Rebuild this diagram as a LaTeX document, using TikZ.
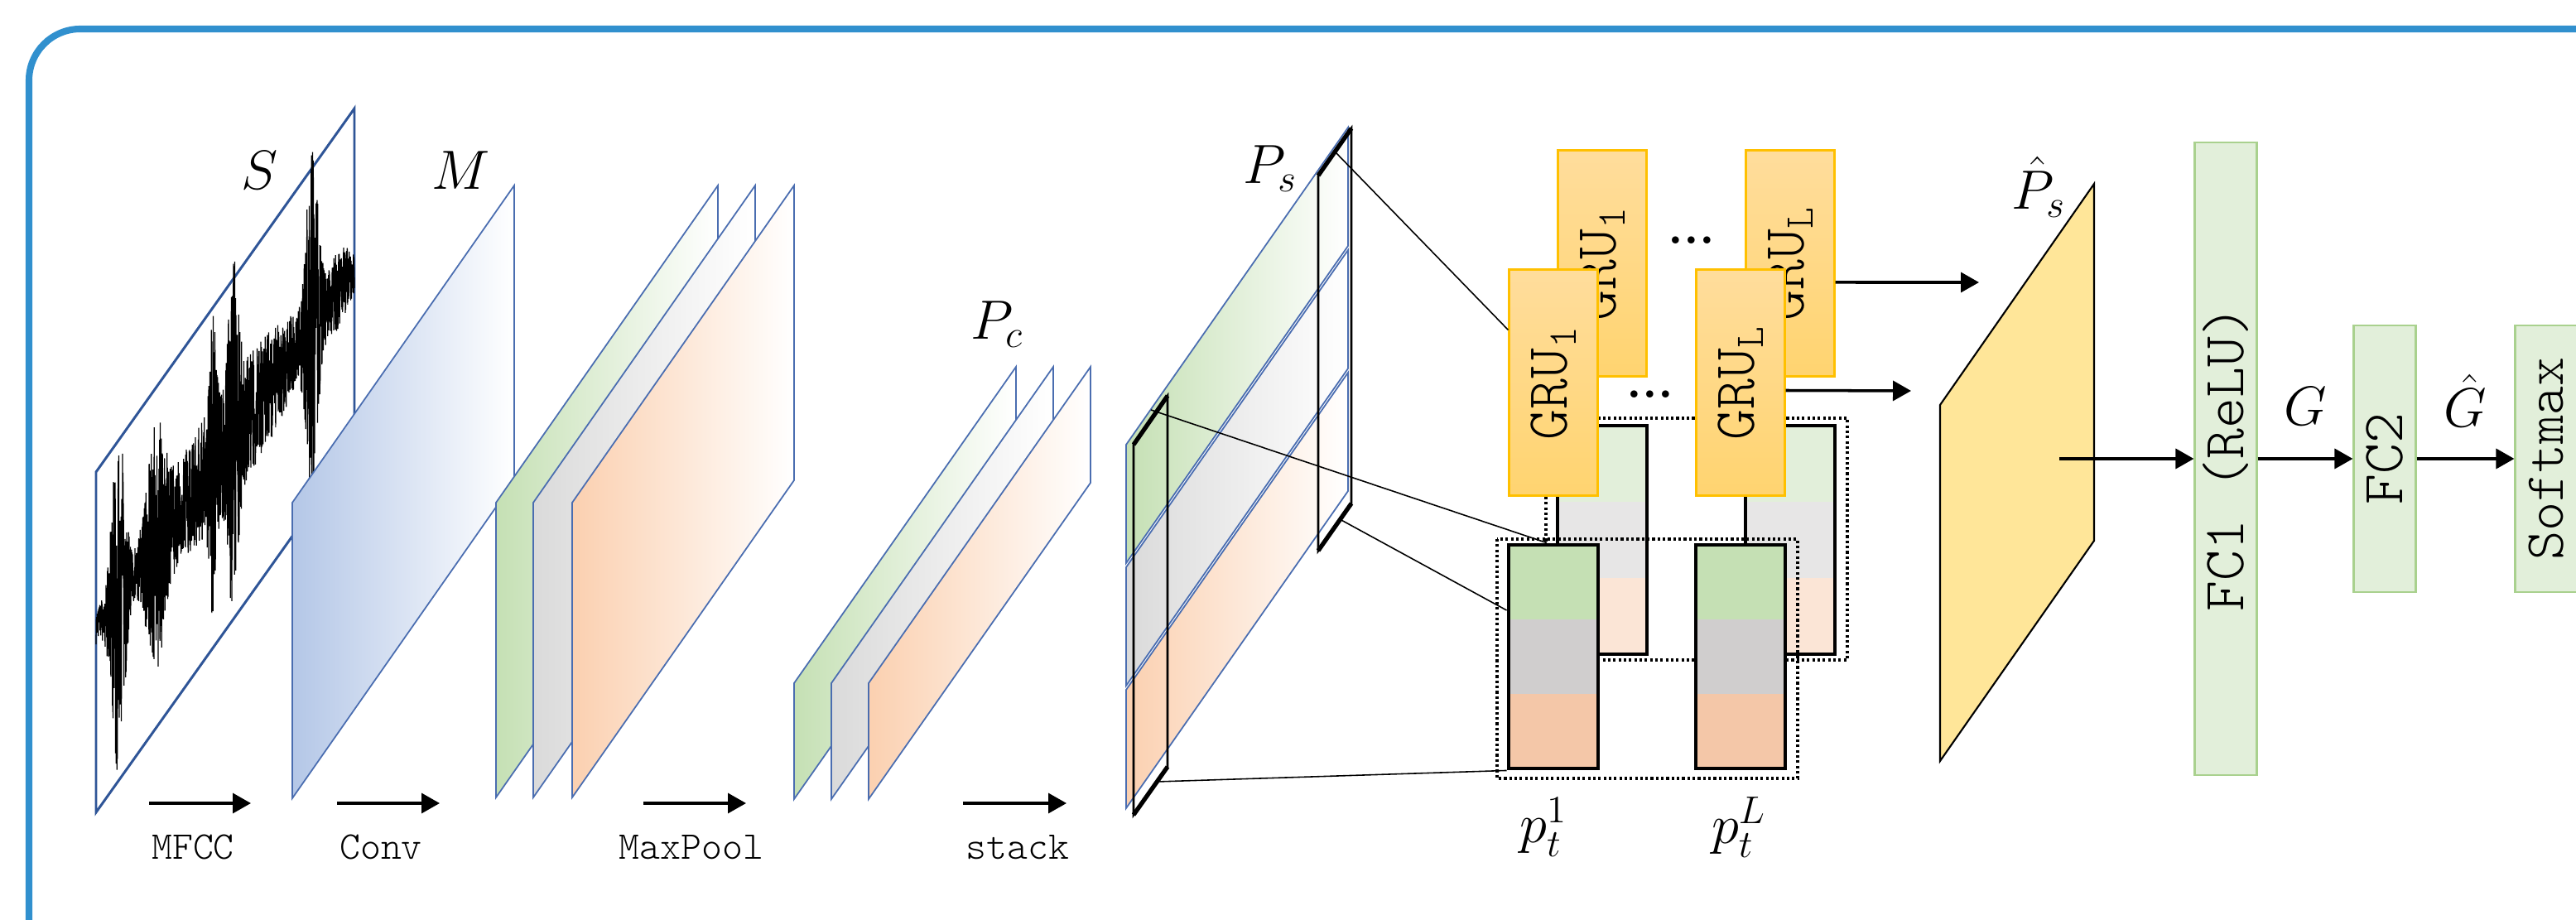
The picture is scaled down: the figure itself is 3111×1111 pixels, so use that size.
\RequirePackage{fix-cm}
\documentclass[tikz,border=0pt]{standalone}
\usepackage{fontspec}
\setmonofont{Latin Modern Mono Light}
\usepackage{graphicx}
\usetikzlibrary{arrows.meta}

\definecolor{framebl}{HTML}{3190CE}
\definecolor{wavebl}{HTML}{2F5597}
\definecolor{edgebl}{HTML}{4A6DB0}
\definecolor{convbl}{HTML}{B4C7E7}
\definecolor{mapgr}{HTML}{C5E0B4}
\definecolor{mapgy}{HTML}{DADADA}
\definecolor{mapor}{HTML}{FBD0B0}
\definecolor{grutop}{HTML}{FFDD9C}
\definecolor{grubot}{HTML}{FFD470}
\definecolor{gruedge}{HTML}{FFC000}
\definecolor{pgr}{HTML}{C5E0B4}
\definecolor{pgy}{HTML}{D0CECE}
\definecolor{por}{HTML}{F4C7A8}
\definecolor{pgrb}{HTML}{E2EFDA}
\definecolor{pgyb}{HTML}{E7E6E6}
\definecolor{porb}{HTML}{FBE5D6}
\definecolor{psgold}{HTML}{FFE699}
\definecolor{fcfill}{HTML}{E2EFDA}
\definecolor{fcedge}{HTML}{A9D18E}

\tikzset{
  declare function={bump(\xa,\xc,\xw)=exp(0-((\xa-\xc)/\xw)^2);
    wav(\xa)=22+190*bump(\xa,27,10)+120*bump(\xa,72,14)+50*exp(0-((\xa-160)/85)^4)
      +115*bump(\xa,141,5)+150*bump(\xa,166,8)+190*bump(\xa,261,9)+25*bump(\xa,290,20);},
  layer/.style={draw=edgebl, line width=0.5pt},
  slice/.style={draw=black, line width=0.8pt},
  arr/.style={-{Triangle[length=2.2mm,width=2.4mm]}, line width=1pt},
  link/.style={black, line width=0.45pt},
  gru/.style={draw=gruedge, line width=0.6pt, top color=grutop, bottom color=grubot,
    minimum width=10.7mm, minimum height=27.3mm, inner sep=0pt,
    font=\fontsize{20}{22}\selectfont\ttfamily},
  fcbox/.style={draw=fcedge, line width=0.6pt, fill=fcfill, minimum width=7.5mm,
    inner sep=0pt, font=\fontsize{20}{22}\selectfont\ttfamily},
  pbox/.style={draw, inner sep=0pt, minimum width=10.8mm},
  lab/.style={inner sep=0pt, font=\fontsize{19}{22}\selectfont},
  steplab/.style={inner sep=0pt, anchor=base, font=\fontsize{13.5}{15}\selectfont\ttfamily},
  dotbox/.style={line width=0.9pt, dash pattern=on 0.9pt off 0.9pt},
  dotlab/.style={inner sep=0pt, font=\fontsize{17}{17}\selectfont\bfseries},
}

\begin{document}
\begin{tikzpicture}[x=0.1mm, y=-0.1mm]
    \useasboundingbox (0,0) rectangle (3111,1111);
    \clip (0,0) rectangle (3111,1111);
    \draw[framebl, line width=2.3pt, rounded corners=6.2mm] (35,35) rectangle (3400,1400);

    % signal S
    \draw[draw=wavebl, line width=0.85pt] (116,981) -- (116,570) -- (428,131) -- (428,542) -- cycle;
    \pgfmathsetseed{4}
    \draw[line width=0.35pt, line join=bevel] plot[domain=0:312, samples=1500] ({116+\x}, {760-1.40*\x+wav(\x)*rand});
    \node[lab] (lS) at (314,206) {$S$};

    % conv and pooling maps
    \draw[layer, left color=convbl, right color=white] (353,964) -- (353,607) -- (621,224) -- (621,581) -- cycle;
    \node[lab] (lM) at (557,206) {$M$};
    \foreach \dx/\col in {0/mapgr, 45/mapgy, 92/mapor}
        \draw[layer, left color=\col, right color=white] (599+\dx,963) -- (599+\dx,607) -- (867+\dx,224) -- (867+\dx,580) -- cycle;
    \foreach \dx/\col in {0/mapgr, 45/mapgy, 90/mapor}
        \draw[layer, left color=\col, right color=white] (959+\dx,965) -- (959+\dx,825) -- (1227+\dx,443) -- (1227+\dx,583) -- cycle;
    \node[lab] (lPc) at (1204,392) {$P_c$};

    % stacked map P_s
    \foreach \ty/\col in {537/mapgr, 685/mapgy, 833/mapor}
        \draw[layer, left color=\col, right color=white] (1360,\ty+143) -- (1360,\ty) -- (1628,\ty-383) -- (1628,\ty-240) -- cycle;
    \node[lab] (lPs) at (1534,204) {$P_s$};
    \draw[slice] (1369,984) -- (1369,537) -- (1410,478) -- (1410,926) -- cycle;
    \draw[slice] (1592,665) -- (1592,212) -- (1632,155) -- (1632,608) -- cycle;
    \draw[line width=1.5pt] (1369,537) -- (1410,478) (1369,984) -- (1410,926);
    \draw[line width=1.5pt] (1592,212) -- (1632,155) (1592,665) -- (1632,608);
    \coordinate (sl1top) at (1390,495);
    \coordinate (sl1bot) at (1397,944);
    \coordinate (sl2top) at (1612,183);
    \coordinate (sl2bot) at (1618,627);

    % back row
    \draw[dotbox] (1867,505) rectangle (2231,797);
    \foreach \cx/\nm in {1935/p1b, 2162/pLb} {
        \fill[pgrb] (\cx-54,514) rectangle (\cx+54,606);
        \fill[pgyb] (\cx-54,606) rectangle (\cx+54,698);
        \fill[porb] (\cx-54,698) rectangle (\cx+54,790);
        \node[pbox, line width=1.1pt, minimum height=27.6mm] (\nm) at (\cx,652) {};
    }
    \node[gru] (gru1b) at (1935,318) {\rotatebox{90}{GRU\textsubscript{1}}};
    \node[gru] (gruLb) at (2162,318) {\rotatebox{90}{GRU\textsubscript{L}}};

    % front row
    \draw[dotbox] (1808,651) rectangle (2171,940);
    \node[gru] (gru1f) at (1876,462) {\rotatebox{90}{GRU\textsubscript{1}}};
    \node[gru] (gruLf) at (2102,462) {\rotatebox{90}{GRU\textsubscript{L}}};
    \foreach \cx/\nm in {1876/p1f, 2102/pLf} {
        \fill[pgr] (\cx-54,658) rectangle (\cx+54,748);
        \fill[pgy] (\cx-54,748) rectangle (\cx+54,838);
        \fill[por] (\cx-54,838) rectangle (\cx+54,928);
        \node[pbox, line width=1.4pt, minimum height=27mm] (\nm) at (\cx,793) {};
    }
    \node[dotlab] (dotsb) at (2043,290) {...};
    \node[dotlab] (dotsf) at (1993,476) {...};
    \node[lab] (lp1) at (1864,999) {$p_t^1$};
    \node[lab] (lpL) at (2100,999) {$p_t^L$};

    % slices to boxes
    \draw[link] (sl2top) -- ([yshift=6.35mm]gru1f.west);
    \draw[link] (sl1top) -- ([xshift=-0.8mm]p1f.north);
    \draw[link] (sl2bot) -- ([yshift=5.6mm]p1f.west);
    \draw[link] (sl1bot) -- (p1f.south west);

    % output map and classifier
    \coordinate (ph1) at (2390,341);
    \coordinate (ph2) at (2308,472);
    \draw[arr] ([yshift=-2.3mm]gruLb.east) -- (ph1);
    \draw[arr] ([yshift=-0.95mm]gruLf.east) -- (ph2);
    \draw[fill=psgold, line width=0.6pt] (2343,919) -- (2343,489) -- (2529,222) -- (2529,653) -- cycle;
    \node[lab] (lPh) at (2462,226) {$\hat{P}_s$};
    \coordinate (phc) at (2487,554);
    \node[fcbox, minimum height=76.4mm] (fc1) at (2688,554) {\rotatebox{90}{FC1 (ReLU)}};
    \node[fcbox, minimum height=32.2mm] (fc2) at (2880,554) {\rotatebox{90}{FC2}};
    \node[fcbox, minimum height=32.2mm, font=\fontsize{19}{21}\selectfont\ttfamily] (smax) at (3075,554) {\rotatebox{90}{Softmax}};
    \draw[arr] (phc) -- (fc1.west);
    \draw[arr] (fc1) -- node[lab, above=3.9mm] (lG) {$G$} (fc2);
    \draw[arr] (fc2) -- node[lab, above=3.7mm] (lGh) {$\hat{G}$} (smax);

    % steps
    \foreach \ax/\bx/\lx/\txt in {180/303/233/MFCC, 407/531/460/Conv, 777/901/835/MaxPool, 1163/1288/1229/stack} {
        \draw[arr] (\ax,970) -- (\bx,970);
        \node[steplab] (l\txt) at (\lx,1038) {\txt};
    }
\end{tikzpicture}
\end{document}
